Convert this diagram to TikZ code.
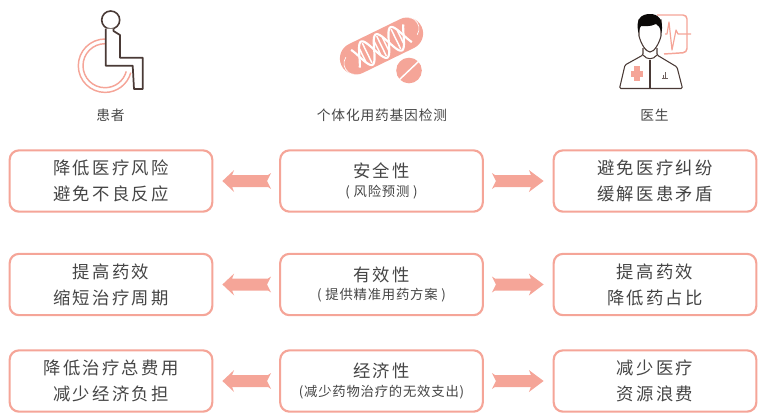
\documentclass[tikz,border=0pt]{standalone}
\usepackage{fontspec}
\setmainfont{Noto Sans CJK SC}
\usetikzlibrary{calc}
\definecolor{pinkc}{HTML}{F5A598}
\definecolor{brownc}{HTML}{4A3A36}
\definecolor{textc}{HTML}{454545}
\newfontfamily\mainf[LetterSpace=13]{Noto Sans CJK SC}
\newfontfamily\capf[LetterSpace=6]{Noto Sans CJK SC}
\tikzset{
  box/.style={draw=pinkc,line width=1.6pt,rounded corners=7pt,fill=white,minimum width=152pt,minimum height=46pt,inner sep=0pt,align=center,text=textc,font=\mainf\fontsize{13}{20}\selectfont},
  captext/.style={text=textc,inner sep=0pt,font=\capf\fontsize{10.3}{12}\selectfont},
  arrowfill/.style={fill=pinkc,draw=none},
}
\newcommand{\subline}[1]{\\[-4pt]{\capf\fontsize{10}{12}\selectfont #1}}
% #1 source anchor, #2 target anchor, #3 direction sign
\newcommand{\fatarrow}[3]{%
  \fill[arrowfill] ($(#1)+(#3*12,0)$) -- ($(#1)+(#3*8,8)$) -- ($(#1)+(#3*11,6)$) -- ($(#1)+(#3*47,6)$) -- ($(#1)+(#3*45,11)$)
    -- ($(#2)+(#3*-9,0)$)
    -- ($(#1)+(#3*45,-11)$) -- ($(#1)+(#3*47,-6)$) -- ($(#1)+(#3*11,-6)$) -- ($(#1)+(#3*8,-8)$) -- cycle;
}
\begin{document}
\begin{tikzpicture}[x=0.75pt,y=-0.75pt]
\useasboundingbox (0,0) rectangle (766,419);
% boxes
\node[box] (l1) at (111,181) {\raisebox{-0.5pt}{降低医疗风险}\\避免不良反应};
\node[box] (c1) at (381.5,181) {\raisebox{-2.3pt}{安全性}\subline{( 风险预测 )}};
\node[box] (r1) at (655,181) {\raisebox{-0.5pt}{避免医疗纠纷}\\缓解医患矛盾};
\node[box] (l2) at (111,284.5) {\raisebox{-0.5pt}{提高药效}\\缩短治疗周期};
\node[box] (c2) at (381.5,284.5) {\raisebox{-2.3pt}{有效性}\subline{( 提供精准用药方案 )}};
\node[box] (r2) at (655,284.5) {\raisebox{-0.5pt}{提高药效}\\降低药占比};
\node[box] (l3) at (111,381) {\raisebox{-0.5pt}{降低治疗总费用}\\减少经济负担};
\node[box] (c3) at (381.5,381) {\raisebox{-2.3pt}{经济性}\subline{(减少药物治疗的无效支出)}};
\node[box] (r3) at (655,381) {\raisebox{-0.5pt}{减少医疗}\\资源浪费};
% arrows
\foreach \i in {1,2,3}{
  \fatarrow{c\i.west}{l\i.east}{-1}
  \fatarrow{c\i.east}{r\i.west}{1}
}
% captions
\node[captext] (capa) at (110.5,115.5) {患者};
\node[captext] (capb) at (382,115.5) {个体化用药基因检测};
\node[captext] (capc) at (654.5,115.5) {医生};
% wheelchair
\draw[pinkc,line width=1.1pt] (105,39) arc[start angle=-90,end angle=-345,radius=26.7];
\draw[pinkc,line width=1.1pt] (105,43.7) arc[start angle=-90,end angle=-345,radius=22];
\draw[brownc,line width=1.2pt] (110.7,20) circle[radius=9];
\draw[brownc,line width=1.3pt,fill=white,line join=round] (105.7,28.5) -- (105.7,65.7) -- (132.7,65.7) -- (134,89) -- (142.7,89) -- (142.7,57.7) -- (120,57.7) -- (120,35) -- (113.5,31) -- (113.5,28.5);
% pill
\begin{scope}[shift={(381.5,46)},rotate=26]
  \fill[pinkc,rounded corners=12pt] (-44.5,-16) rectangle (44.5,16);
  \draw[white,line width=0.5pt] (-37,-5.5) arc[start angle=240,end angle=120,radius=11];
  \draw[white,line width=0.5pt] (37,5.5) arc[start angle=60,end angle=-60,radius=11];
  \draw[white,line width=1.6pt] plot[domain=-29:29,samples=50,smooth] (\x,{13*cos(\x*11)});
  \draw[white,line width=1.6pt] plot[domain=-29:29,samples=50,smooth] (\x,{-13*cos(\x*11)});
  \foreach \xx in {-4.5,0,4.5,-16,16,-21,21}{\draw[white,line width=1.1pt] (\xx,{-11*cos(\xx*11)}) -- (\xx,{11*cos(\xx*11)});}
\end{scope}
\fill[pinkc] (409,70.5) circle[radius=12.8];
\draw[white,line width=1.1pt] (399,80) -- (419,61);
% doctor monitor
\draw[pinkc,line width=1.1pt,rounded corners=3pt] (657,15) -- (687,15) -- (687,52.5) -- (664,54);
\draw[pinkc,line width=0.9pt,line join=round] (665,34) -- (667,34) -- (669,22) -- (672,50) -- (676,30) -- (678,34) -- (691,34);
% doctor figure
\draw[brownc,line width=0.8pt,fill=white] (639,36) .. controls (641,44) and (646,52) .. (650,52) .. controls (654,52) and (659,44) .. (661,36) -- (661,20) -- (639,20) -- cycle;
\fill[black!85!brownc] (638.5,33) .. controls (635,18) and (642,14) .. (650,14) .. controls (658,14) and (664,19) .. (661.5,33) .. controls (660,27) and (658,25) .. (656,24) .. controls (650,27) and (644,26) .. (641,26) .. controls (640,27) and (639.5,29) .. (638.5,33) -- cycle;
\draw[brownc,line width=0.8pt,rounded corners=1pt] (643,48) -- (643,55) -- (625,65) -- (619.5,88.5) -- (682.5,88.5) -- (677,67) -- (657,55) -- (657,48);
\draw[brownc,line width=0.8pt] (643,55) .. controls (647,60) and (653,60) .. (657,55);
\draw[brownc,line width=1.4pt] (650,60) -- (650,88);
\fill[pinkc] (634,66) rectangle (639.5,81);
\fill[pinkc] (631,71) rectangle (643,76.5);
\draw[brownc!80,line width=0.7pt] (662,78) -- (668,78) (665,78) -- (665,72) (663,78) -- (663,75);
\end{tikzpicture}
\end{document}
